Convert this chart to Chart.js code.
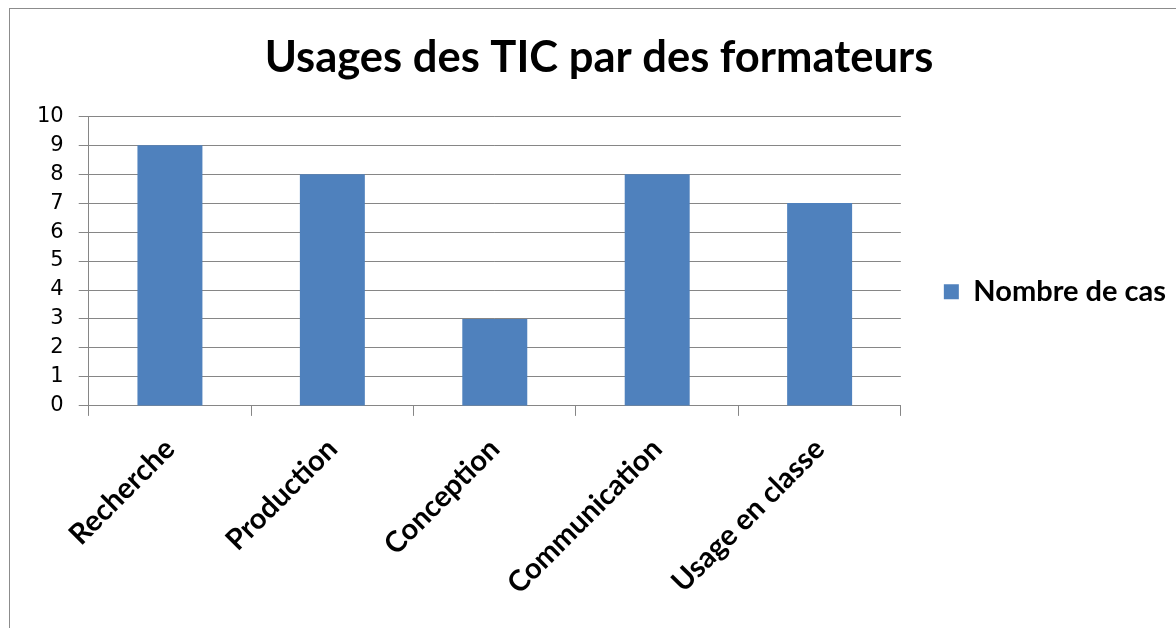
<!DOCTYPE html>
<html><head><meta charset="utf-8">
<script src="https://cdn.jsdelivr.net/npm/chart.js@4.4.0/dist/chart.umd.min.js"></script>
<style>
html,body{margin:0;padding:0;background:#fff;}
#wrap{position:relative;width:1176px;height:628px;overflow:hidden;background:#fff;}
#frame{position:absolute;left:9px;top:8px;width:2000px;height:2000px;border-left:1px solid #8c8c8c;border-top:1px solid #8c8c8c;pointer-events:none;}
canvas{position:absolute;left:0;top:0;}
</style></head><body>
<div id="wrap"><canvas id="c" width="1176" height="628"></canvas><div id="frame"></div></div>
<script>
const titleText = 'Usages des TIC par des formateurs';
const categories = ['Recherche', 'Production', 'Conception', 'Communication', 'Usage en classe'];
const seriesName = 'Nombre de cas';
const seriesValues = [9, 8, 3, 8, 7];
const yMin = 0;
const yMax = 10;
const yStep = 1;

const GRID = '#868686';
const BLUE = '#4F81BD';

new Chart(document.getElementById('c'), {
  type: 'bar',
  data: {
    labels: categories,
    datasets: [{
      label: seriesName,
      data: seriesValues,
      backgroundColor: BLUE,
      borderWidth: 0,
      barPercentage: 0.4,
      categoryPercentage: 1.0
    }]
  },
  options: {
    responsive: false,
    animation: false,
    layout: { padding: { left: 22, right: 0, top: 0, bottom: 11 } },
    plugins: {
      tooltip: { enabled: false },
      title: {
        display: true,
        text: titleText,
        color: '#000',
        font: { family: 'Lato', size: 43.5, weight: 'bold' },
        padding: { top: 32, bottom: 32 }
      },
      legend: {
        position: 'right',
        align: 'start',
        maxWidth: 400,
        title: { display: true, text: ' ', font: { size: 1 }, padding: 133 },
        labels: {
          color: '#000',
          boxWidth: 15,
          boxHeight: 15,
          padding: 10,
          font: { family: 'Lato', size: 29, weight: 'bold' }
        }
      }
    },
    scales: {
      x: {
        grid: { offset: true, drawOnChartArea: false, drawTicks: true, tickLength: 10, color: GRID, lineWidth: 1 },
        border: { color: GRID, width: 1 },
        ticks: {
          color: '#000',
          minRotation: 45,
          maxRotation: 45,
          padding: 16,
          font: { family: 'Lato', size: 29, weight: 'bold' }
        }
      },
      y: {
        min: yMin,
        max: yMax,
        grid: { color: GRID, lineWidth: 1, tickLength: 10 },
        border: { color: GRID, width: 1 },
        ticks: {
          stepSize: yStep,
          color: '#000',
          padding: 15,
          font: { family: 'DejaVu Sans', size: 21 }
        }
      },
      yRightGap: {
        type: 'linear',
        position: 'right',
        display: true,
        grid: { display: false, drawTicks: false },
        border: { display: false },
        ticks: { display: false },
        afterFit: (s) => { s.width = 33; }
      }
    }
  }
});
</script>
</body></html>
